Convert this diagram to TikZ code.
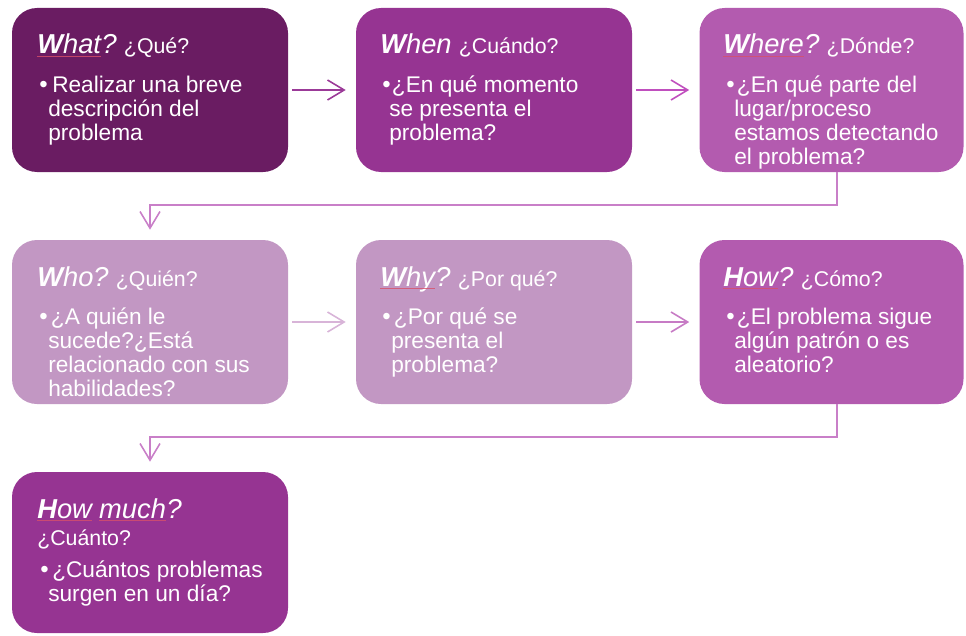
\documentclass[tikz,border=0pt]{standalone}
\usepackage{fontspec}
\setmainfont{Liberation Sans}
\usetikzlibrary{arrows.meta}

\definecolor{plumA}{HTML}{6A1C62}
\definecolor{plumB}{HTML}{963492}
\definecolor{plumC}{HTML}{B35BAF}
\definecolor{lilac}{HTML}{C297C3}
\definecolor{arrA}{HTML}{9B3A98}
\definecolor{arrB}{HTML}{C04FBE}
\definecolor{arrC}{HTML}{D8B4D8}
\definecolor{arrD}{HTML}{C77BC5}
\definecolor{elbowc}{HTML}{C97FC8}
\definecolor{spellc}{HTML}{D8506A}

\tikzset{
  card/.style={rounded corners=18.75pt, minimum width=207pt, minimum height=123pt,
               inner sep=0pt, fill=#1, draw=none},
  ttl/.style={anchor=base west, inner sep=0pt, text=white,
              font=\fontsize{20.5}{24}\selectfont\itshape},
  sub/.style={anchor=base west, inner sep=0pt, text=white,
              font=\fontsize{16}{19}\selectfont},
  body/.style={anchor=base west, inner sep=0pt, text=white,
               font=\fontsize{17}{18}\selectfont},
  dot/.style={anchor=base west, inner sep=0pt, text=white,
              font=\fontsize{18}{18}\selectfont},
  spell/.style={draw=spellc, line width=0.3pt, draw opacity=0.8},
  flow/.style={draw=#1, line width=1.2pt,
               -{Straight Barb[length=12.5pt,width=15pt,line width=1.2pt]},
               shorten <=3pt, shorten >=7.5pt},
  elbow/.style={draw=elbowc, line width=1.2pt,
               -{Straight Barb[length=12.5pt,width=15pt,line width=1.2pt]},
               shorten >=7.5pt},
}

\newcommand{\firstl}[1]{\textbf{#1}}

\begin{document}
\begin{tikzpicture}[x=0.75pt,y=-0.75pt]
\useasboundingbox (0,0) rectangle (966,635);

% cards
\node[card=plumA] (b1) at (150,90) {};
\node[card=plumB] (b2) at (494,90) {};
\node[card=plumC, minimum width=198pt] (b3) at (831.5,90) {};
\node[card=lilac] (b4) at (150,322) {};
\node[card=lilac] (b5) at (494,322) {};
\node[card=plumC, minimum width=198pt] (b6) at (831.5,322) {};
\node[card=plumB, minimum height=120.75pt] (b7) at (150,552.5) {};

% connectors
\draw[flow=arrA] (b1) -- (b2);
\draw[flow=arrB] (b2) -- (b3);
\draw[flow=arrC] (b4) -- (b5);
\draw[flow=arrD] (b5) -- (b6);
\draw[elbow] ([xshift=4pt]b3.south) -- ++(0,33) -| (b4.north);
\draw[elbow] ([xshift=4pt]b6.south) -- ++(0,33) -| (b7.north);

% What?
\node[ttl] (w1) at (37,54) {\firstl{W}hat};
\node[ttl] (q1) at (w1.base east) {?};
\draw[spell] ([yshift=-2pt]w1.base west) -- ([yshift=-2pt]w1.base east);
\node[sub] (s1) at ([xshift=5pt]q1.base east) {¿Qué?};
\node[dot] (d1) at (39,92) {•};
\node[body] (t1) at (48,92) {\vtop{\hbox{\kern3pt Realizar una breve}\hbox{descripción del}\hbox{problema}}};

% When
\node[ttl] (w2) at (380,54) {\firstl{W}hen};
\node[sub] (s2) at ([xshift=5pt]w2.base east) {¿Cuándo?};
\node[dot] (d2) at (382,92) {•};
\node[body] (t2) at (389,92) {\vtop{\hbox{\kern2pt ¿En qué momento}\hbox{se presenta el}\hbox{problema?}}};

% Where?
\node[ttl] (w3) at (723,54) {\firstl{W}here};
\node[ttl] (q3) at (w3.base east) {?};
\draw[spell] ([yshift=-2pt]w3.base west) -- ([yshift=-2pt]w3.base east);
\node[sub] (s3) at ([xshift=5pt]q3.base east) {¿Dónde?};
\node[dot] (d3) at (726,92) {•};
\node[body] (t3) at (734,92) {\vtop{\hbox{\kern2pt ¿En qué parte del}\hbox{lugar/proceso}\hbox{estamos detectando}\hbox{el problema?}}};

% Who?
\node[ttl] (w4) at (37,286) {\firstl{W}ho?};
\node[sub] (s4) at ([xshift=5pt]w4.base east) {¿Quién?};
\node[dot] (d4) at (39,324) {•};
\node[body] (t4) at (48,324) {\vtop{\hbox{\kern2pt ¿A quién le}\hbox{sucede?¿Está}\hbox{relacionado con sus}\hbox{habilidades?}}};

% Why?
\node[ttl] (w5) at (380,286) {\firstl{W}hy};
\node[ttl] (q5) at (w5.base east) {?};
\draw[spell] ([yshift=-2pt]w5.base west) -- ([yshift=-2pt]w5.base east);
\node[sub] (s5) at ([xshift=5pt]q5.base east) {¿Por qué?};
\node[dot] (d5) at (382,324) {•};
\node[body] (t5) at (391,324) {\vtop{\hbox{\kern2pt ¿Por qué se}\hbox{presenta el}\hbox{problema?}}};

% How?
\node[ttl] (w6) at (723,286) {\firstl{H}ow};
\node[ttl] (q6) at (w6.base east) {?};
\draw[spell] ([yshift=-2pt]w6.base west) -- ([yshift=-2pt]w6.base east);
\node[sub] (s6) at ([xshift=5pt]q6.base east) {¿Cómo?};
\node[dot] (d6) at (726,324) {•};
\node[body] (t6) at (734,324) {\vtop{\hbox{\kern2pt ¿El problema sigue}\hbox{algún patrón o es}\hbox{aleatorio?}}};

% How much?
\node[ttl] (w7) at (37,518) {\firstl{H}ow};
\node[ttl] (m7) at ([xshift=5pt]w7.base east) {much};
\node[ttl] (q7) at (m7.base east) {?};
\draw[spell] ([yshift=-2pt]w7.base west) -- ([yshift=-2pt]w7.base east);
\draw[spell] ([yshift=-2pt]m7.base west) -- ([yshift=-2pt]m7.base east);
\node[sub] (s7) at (37,545) {¿Cuánto?};
\node[dot] (d7) at (40,577) {•};
\node[body] (t7) at (48,577) {\vtop{\hbox{\kern3pt ¿Cuántos problemas}\hbox{surgen en un día?}}};
\end{tikzpicture}
\end{document}
